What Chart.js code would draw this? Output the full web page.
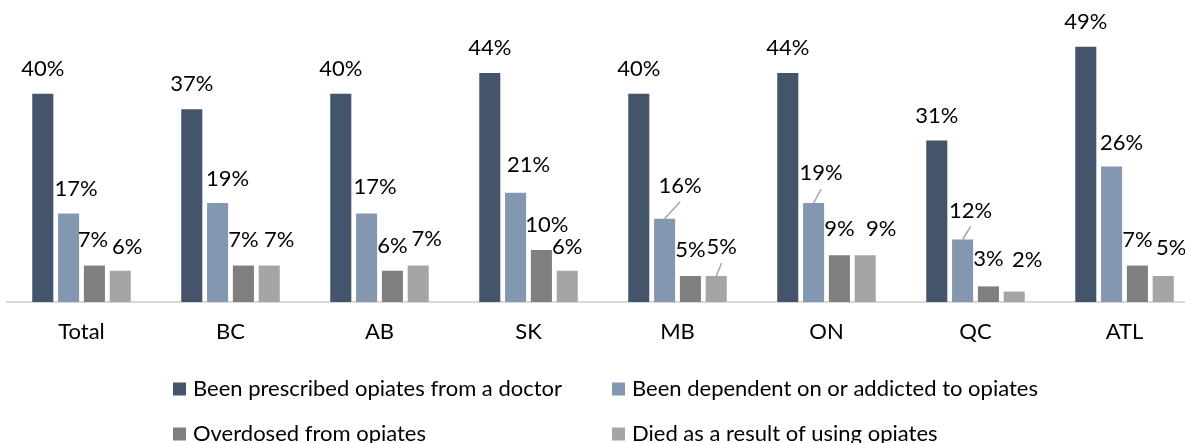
<!DOCTYPE html>
<html>
<head>
<meta charset="utf-8">
<script src="https://cdn.jsdelivr.net/npm/chart.js@4.4.0/dist/chart.umd.min.js"></script>
<style>
  html, body { margin: 0; padding: 0; background: #fff; overflow: hidden; }
  #wrap { width: 1185px; height: 443px; overflow: hidden; }
</style>
</head>
<body>
<div id="wrap"><canvas id="opiateChart" width="1199" height="443"></canvas></div>
<script>
// data (percent of respondents)
const categories = ['Total', 'BC', 'AB', 'SK', 'MB', 'ON', 'QC', 'ATL'];
const prescribed = [40, 37, 40, 44, 40, 44, 31, 49];
const dependent = [17, 19, 17, 21, 16, 19, 12, 26];
const overdosed = [7, 7, 6, 10, 5, 9, 3, 7];
const died = [6, 7, 7, 6, 5, 9, 2, 5];

const seriesNames = [
    'Been prescribed opiates from a doctor',
    'Been dependent on or addicted to opiates',
    'Overdosed from opiates',
    'Died as a result of using opiates'
];
const seriesColors = ['#44546A', '#8497B0', '#7F7F7F', '#A5A5A5'];

// label placement tweaks: [dx, lift above bar top], like the hand-moved labels in the original
const labelNudge = [
    [[0, 25], [0, 25], [0, 25], [0, 25], [0, 25], [0, 25], [0, 25], [0, 25]],
    [[7.5, 24.5], [10, 24], [8.5, 27], [13, 28], [15.5, 33], [7.5, 30], [8, 29], [10, 24]],
    [[-1.5, 26], [0, 26], [0, 24.5], [5.5, 25.5], [0, 26.5], [0, 26], [0, 27], [0, 26]],
    [[7, 24], [10, 26], [8.5, 26.5], [0, 23.5], [5.5, 29], [16, 26], [13, 32], [8, 28]]
];
// labels that get a leader line: [series, category]
const leaders = [[1, 4], [1, 5], [1, 6], [3, 4]];

const FONT = '22px Lato';

const valueLabels = {
    id: 'valueLabels',
    afterDatasetsDraw(chart) {
        const ctx = chart.ctx;
        ctx.save();
        ctx.font = FONT;
        ctx.fillStyle = '#000';
        ctx.textAlign = 'center';
        ctx.textBaseline = 'middle';
        chart.data.datasets.forEach((ds, i) => {
            chart.getDatasetMeta(i).data.forEach((bar, j) => {
                const n = labelNudge[i][j];
                ctx.fillText(ds.data[j] + '%', bar.x + n[0], bar.y - n[1]);
            });
        });
        // leader lines
        ctx.strokeStyle = '#A6A6A6';
        ctx.lineWidth = 1.5;
        leaders.forEach(([i, j]) => {
            const bar = chart.getDatasetMeta(i).data[j];
            const n = labelNudge[i][j];
            ctx.beginPath();
            ctx.moveTo(bar.x, bar.y);
            ctx.lineTo(bar.x + n[0], bar.y - n[1] + 16);
            ctx.stroke();
        });
        ctx.restore();
    }
};

// two-row legend laid out in columns, as in the original
const gridLegend = {
    id: 'gridLegend',
    afterDraw(chart) {
        const ctx = chart.ctx;
        const cols = [173, 612];
        const rows = [389, 434];
        ctx.save();
        ctx.font = FONT;
        ctx.textAlign = 'left';
        ctx.textBaseline = 'middle';
        seriesNames.forEach((name, k) => {
            const x = cols[k % 2];
            const y = rows[Math.floor(k / 2)];
            ctx.fillStyle = seriesColors[k];
            ctx.fillRect(x, y - 6.5, 13, 13);
            ctx.fillStyle = '#000';
            ctx.fillText(name, x + 20, y);
        });
        ctx.restore();
    }
};

const seriesData = [prescribed, dependent, overdosed, died];

function drawChart() {
    const ctx = document.getElementById('opiateChart').getContext('2d');
    new Chart(ctx, {
        type: 'bar',
        data: {
            labels: categories,
            datasets: seriesData.map((d, k) => ({
                label: seriesNames[k],
                data: d,
                backgroundColor: seriesColors[k],
                borderWidth: 0,
                categoryPercentage: 0.693,
                barPercentage: 0.816
            }))
        },
        options: {
            responsive: false,
            animation: false,
            devicePixelRatio: 1,
            layout: { padding: { left: 7, right: 0, top: 0, bottom: 0 } },
            scales: {
                y: { display: false, min: 0, max: 58 },
                x: {
                    grid: { display: false, drawTicks: false },
                    border: { display: true, color: '#D9D9D9', width: 2 },
                    ticks: {
                        color: '#000',
                        padding: 17,
                        font: { family: 'Lato', size: 22 }
                    },
                    afterFit(scale) { scale.height = 141; }
                }
            },
            plugins: {
                legend: { display: false },
                tooltip: { enabled: false }
            }
        },
        plugins: [valueLabels, gridLegend]
    });
}

document.fonts.load(FONT).then(drawChart, drawChart);
</script>
</body>
</html>
